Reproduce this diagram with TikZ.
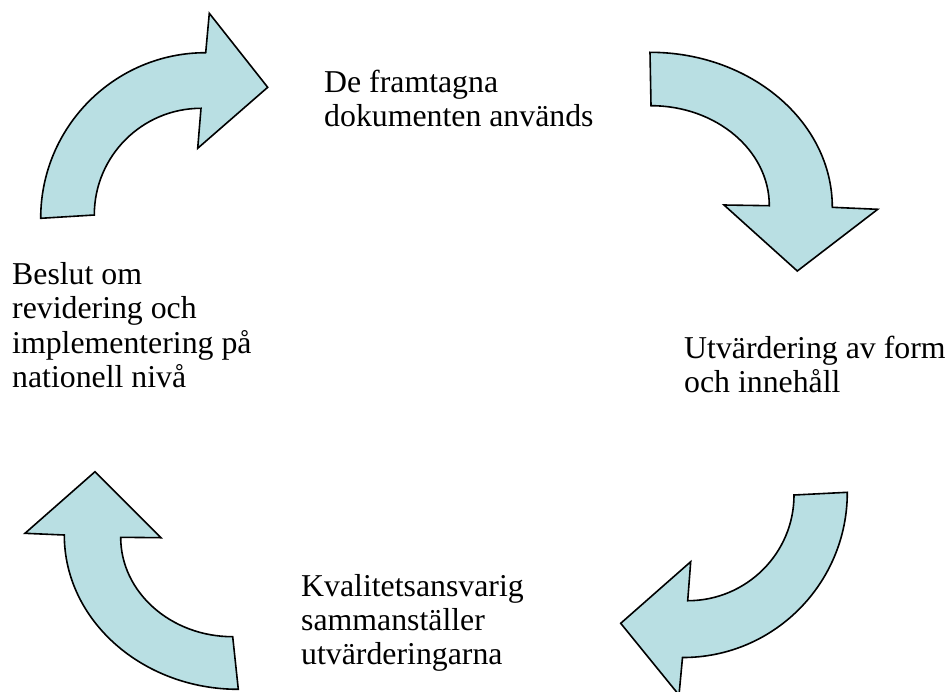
\documentclass[tikz,border=0pt]{standalone}
\usepackage{fontspec}
\setmainfont{Liberation Serif}
\begin{document}
\begin{tikzpicture}[x=1pt,y=-1pt,
  cyclearrow/.style={draw=black, line width=1.6pt, line join=miter, fill=arrowfill},
  steplabel/.style={anchor=base west, align=left, inner sep=0pt,
    font=\fontsize{31.8}{34.4}\selectfont}]
\definecolor{arrowfill}{RGB}{185,223,227}
\useasboundingbox (0,0) rectangle (949,691);
\clip (0,0) rectangle (949,691);

% upper left: curving up and to the right
\draw[cyclearrow] (40.7,218.3) -- (94.3,215)
  .. controls (94.3,156.1) and (142.1,108.3) .. (201,108.3)
  -- (197.7,148.3) -- (267.7,87.3) -- (209.3,13.3) -- (205.7,52.7)
  .. controls (114.6,52.7) and (40.7,126.9) .. cycle;

% upper right: curving right and down
\draw[cyclearrow] (650,52.3)
  .. controls (750.5,52.3) and (832.3,121.7) .. (832.3,207.3)
  -- (877.7,209.3) -- (797.3,271) -- (724,205) -- (769.3,205.7)
  .. controls (769.3,150.5) and (716.3,105.7) .. (651,105.7) -- cycle;

% lower right: curving down and to the left
\draw[cyclearrow] (794,495) -- (847.3,492.3)
  .. controls (847.3,583.6) and (773.6,657.7) .. (682.5,657.5)
  -- (679,695) -- (620.7,623.3) -- (690.7,561.7) -- (687.7,600.7)
  .. controls (746.2,600.7) and (794,553.5) .. cycle;

% lower left: curving left and up
\draw[cyclearrow] (95,471.7) -- (161,537.7) -- (120.7,537.3)
  .. controls (120.7,592.2) and (170.9,636.7) .. (232.7,636.7)
  -- (238.3,689.3)
  .. controls (142.3,689.3) and (64.3,620.2) .. (64.3,535)
  -- (25,533.3) -- cycle;

% labels, anchored at the baseline of their last line
\node[steplabel] (used) at (324,126.7) {De framtagna\\dokumenten används};
\node[steplabel] (evaluate) at (684,392.7) {Utvärdering av form\\och innehåll};
\node[steplabel] (compile) at (301,664.8) {Kvalitetsansvarig\\sammanställer\\utvärderingarna};
\node[steplabel] (decide) at (12,387.5) {Beslut om\\revidering och\\implementering på\\nationell nivå};
\end{tikzpicture}
\end{document}
